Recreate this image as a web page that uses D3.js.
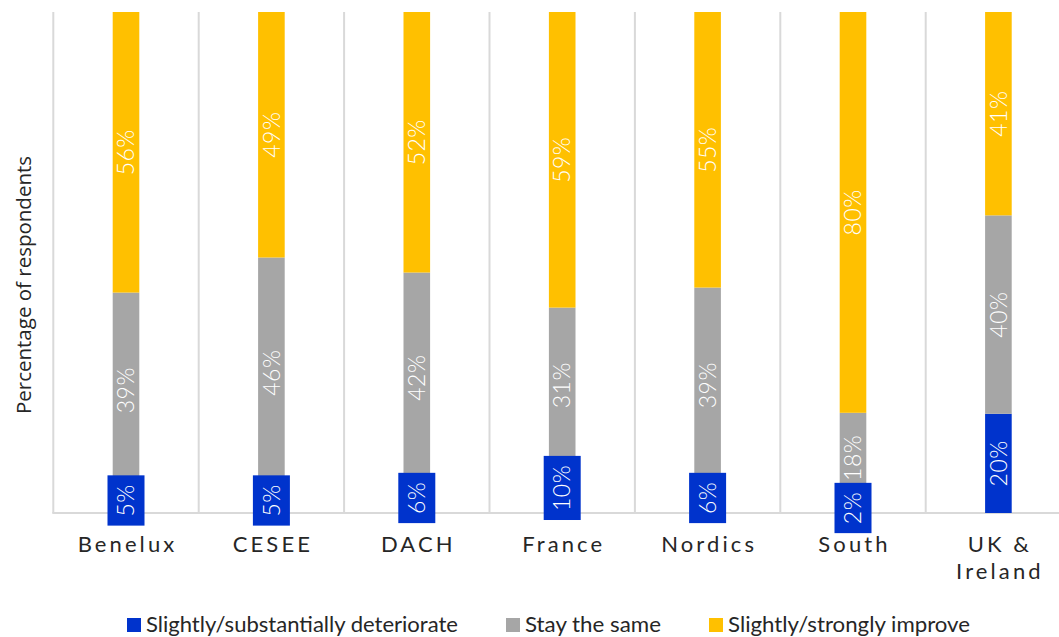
<!DOCTYPE html>
<html>
<head>
<meta charset="utf-8">
<script src="https://cdn.jsdelivr.net/npm/d3@7"></script>
<style>
  html, body { margin: 0; padding: 0; background: #fff; }
  svg { display: block; }
</style>
</head>
<body>
<svg id="chart" width="1059" height="637"></svg>
<script>
const categories = ["Benelux", "CESEE", "DACH", "France", "Nordics", "South", "UK & Ireland"];
const seriesNames = ["Slightly/substantially deteriorate", "Stay the same", "Slightly/strongly improve"];
const deteriorate = [5, 5, 6, 10, 6, 2, 20];
const staySame = [39, 46, 42, 31, 39, 18, 40];
const improve = [56, 49, 52, 59, 55, 80, 41];
const seriesColors = ["#0033cc", "#a6a6a6", "#ffc000"];
const yAxisTitle = "Percentage of respondents";

(function () {
const svg = d3.select("#chart");
const pLeft = 53.3, pRight = 1071.1, pTop = 12, pBottom = 513;

const rows = categories.map((c, i) => ({
  cat: c, s0: deteriorate[i], s1: staySame[i], s2: improve[i]
}));
const stack = d3.stack().keys(["s0", "s1", "s2"]).offset(d3.stackOffsetExpand);
const stacked = stack(rows);

const x = d3.scaleBand().domain(categories).range([pLeft, pRight]).paddingInner(0.817).paddingOuter(0.4085);
const y = d3.scaleLinear().domain([0, 1]).range([pBottom, pTop]);
const step = x.step();

// gridlines (vertical, at band boundaries)
const gridG = svg.append("g");
const bounds = d3.range(categories.length + 1).map(i => pLeft + i * step);
gridG.selectAll("line.v").data(bounds).join("line")
  .attr("x1", d => d).attr("x2", d => d)
  .attr("y1", pTop).attr("y2", pBottom)
  .attr("stroke", "#d9d9d9").attr("stroke-width", 2);
gridG.append("line")
  .attr("x1", pLeft - 1).attr("x2", pRight + 1)
  .attr("y1", pBottom).attr("y2", pBottom)
  .attr("stroke", "#d9d9d9").attr("stroke-width", 2);

// bars
const barsG = svg.append("g");
stacked.forEach((layer, li) => {
  barsG.selectAll(null).data(layer).join("rect")
    .attr("x", d => x(d.data.cat))
    .attr("width", x.bandwidth())
    .attr("y", d => y(d[1]))
    .attr("height", d => y(d[0]) - y(d[1]))
    .attr("fill", seriesColors[li]);
});

// labels
const raw = [deteriorate, staySame, improve];
const labG = svg.append("g");
stacked.forEach((layer, li) => {
  layer.forEach((d, i) => {
    const cx = x(d.data.cat) + x.bandwidth() / 2;
    const cy = (y(d[0]) + y(d[1])) / 2;
    const segH = y(d[0]) - y(d[1]);
    const g = labG.append("g").attr("transform", `translate(${cx},${cy})`);
    const t = g.append("text")
      .attr("transform", "rotate(-90)")
      .attr("text-anchor", "middle")
      .attr("dy", "0.36em")
      .attr("font-family", "Lato, sans-serif")
      .attr("font-weight", 300)
      .attr("font-size", 23)
      .attr("letter-spacing", 0.5)
      .attr("fill", "#ffffff")
      .text(raw[li][i] + "%");
    const len = t.node().getComputedTextLength();
    const need = len + 18;
    if (need > segH) {
      g.insert("rect", "text")
        .attr("x", -18.5).attr("width", 37)
        .attr("y", -need / 2).attr("height", need)
        .attr("fill", seriesColors[li]);
    }
  });
});

// category labels
const catG = svg.append("g");
categories.forEach(c => {
  const cx = x(c) + x.bandwidth() / 2;
  const lines = c === "UK & Ireland" ? ["UK &", "Ireland"] : [c];
  lines.forEach((ln, k) => {
    catG.append("text")
      .attr("x", cx + 1.5).attr("y", 552 + k * 27)
      .attr("text-anchor", "middle")
      .attr("font-family", "Lato, sans-serif")
      .attr("font-size", 22)
      .attr("letter-spacing", 3.1)
      .attr("fill", "#262626")
      .text(ln);
  });
});

// y axis title
svg.append("text")
  .attr("transform", "translate(31,285) rotate(-90)")
  .attr("text-anchor", "middle")
  .attr("font-family", "'Open Sans', sans-serif")
  .attr("font-size", 20.5)
  .attr("fill", "#262626")
  .text(yAxisTitle);

// legend
const legendItems = [
  { sq: 127, tx: 146, w: 312 },
  { sq: 506, tx: 525, w: 136 },
  { sq: 709, tx: 728, w: 242 }
];
const legG = svg.append("g");
seriesNames.forEach((n, i) => {
  const it = legendItems[i];
  legG.append("rect").attr("x", it.sq).attr("y", 618).attr("width", 14).attr("height", 14)
    .attr("fill", seriesColors[i]);
  legG.append("text").attr("x", it.tx).attr("y", 632)
    .attr("font-family", "Lato, sans-serif")
    .attr("font-size", 22)
    .attr("textLength", it.w)
    .attr("lengthAdjust", "spacingAndGlyphs")
    .attr("fill", "#262626")
    .text(n);
});
})();
</script>
</body>
</html>
